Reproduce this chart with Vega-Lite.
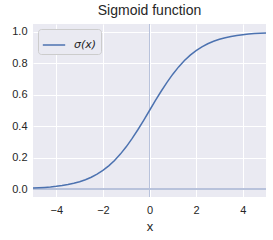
{
  "$schema": "https://vega.github.io/schema/vega-lite/v6.json",
  "width": 233,
  "height": 173,
  "autosize": "none",
  "padding": {"left": 33, "top": 24, "right": 7, "bottom": 43},
  "background": "white",
  "config": {
    "font": "Liberation Sans",
    "view": {"fill": "#EAEAF2", "stroke": null},
    "axis": {
      "domain": false,
      "ticks": false,
      "grid": true,
      "gridColor": "white",
      "gridWidth": 1,
      "labelOverlap": false,
      "labelColor": "#262626",
      "labelFontSize": 11,
      "labelFont": "Liberation Sans",
      "titleFont": "Liberation Sans",
      "titleColor": "#262626",
      "titleFontSize": 13,
      "titleFontWeight": "normal"
    }
  },
  "title": {"text": "Sigmoid function", "fontSize": 14, "fontWeight": "normal", "color": "#262626", "offset": 6, "font": "Liberation Sans"},
  "data": {
    "values": [
      {"x": -5, "y": 0.006693}, {"x": -4.75, "y": 0.008577}, {"x": -4.5, "y": 0.010987}, {"x": -4.25, "y": 0.014064},
      {"x": -4, "y": 0.017986}, {"x": -3.75, "y": 0.022977}, {"x": -3.5, "y": 0.029312}, {"x": -3.25, "y": 0.037327},
      {"x": -3, "y": 0.047426}, {"x": -2.75, "y": 0.060086}, {"x": -2.5, "y": 0.075858}, {"x": -2.25, "y": 0.095349},
      {"x": -2, "y": 0.119203}, {"x": -1.75, "y": 0.148047}, {"x": -1.5, "y": 0.182426}, {"x": -1.25, "y": 0.2227},
      {"x": -1, "y": 0.268941}, {"x": -0.75, "y": 0.320821}, {"x": -0.5, "y": 0.377541}, {"x": -0.25, "y": 0.437823},
      {"x": 0, "y": 0.5}, {"x": 0.25, "y": 0.562177}, {"x": 0.5, "y": 0.622459}, {"x": 0.75, "y": 0.679179},
      {"x": 1, "y": 0.731059}, {"x": 1.25, "y": 0.7773}, {"x": 1.5, "y": 0.817574}, {"x": 1.75, "y": 0.851953},
      {"x": 2, "y": 0.880797}, {"x": 2.25, "y": 0.904651}, {"x": 2.5, "y": 0.924142}, {"x": 2.75, "y": 0.939914},
      {"x": 3, "y": 0.952574}, {"x": 3.25, "y": 0.962673}, {"x": 3.5, "y": 0.970688}, {"x": 3.75, "y": 0.977023},
      {"x": 4, "y": 0.982014}, {"x": 4.25, "y": 0.985936}, {"x": 4.5, "y": 0.989013}, {"x": 4.75, "y": 0.991423},
      {"x": 5, "y": 0.993307}
    ]
  },
  "encoding": {
    "x": {
      "type": "quantitative",
      "scale": {"domain": [-5, 5], "nice": false, "zero": false},
      "axis": {"values": [-4, -2, 0, 2, 4], "format": "d", "title": "x", "labelPadding": 7, "titlePadding": 5, "labelOverlap": false}
    },
    "y": {
      "type": "quantitative",
      "scale": {"domain": [-0.05, 1.05], "nice": false, "zero": false},
      "axis": {"values": [0, 0.2, 0.4, 0.6, 0.8, 1.0], "format": ".1f", "title": null, "labelPadding": 6, "labelOverlap": false}
    }
  },
  "layer": [
    {
      "mark": {"type": "rule", "color": "#B8C2DB", "strokeWidth": 1},
      "encoding": {
        "x": {"datum": 0, "type": "quantitative"}
      }
    },
    {
      "mark": {"type": "rule", "color": "#B8C2DB", "strokeWidth": 1},
      "encoding": {
        "y": {"datum": 0, "type": "quantitative"}
      }
    },
    {
      "mark": {"type": "line", "strokeWidth": 1.5, "clip": true},
      "encoding": {
        "x": {"field": "x", "type": "quantitative"},
        "y": {"field": "y", "type": "quantitative"},
        "color": {
          "datum": "σ(x)",
          "type": "nominal",
          "scale": {"range": ["#4C72B0"]},
          "legend": {
            "title": null,
            "orient": "top-left",
            "offset": 5,
            "symbolType": "stroke",
            "symbolSize": 500,
            "symbolStrokeWidth": 1.5,
            "labelFont": "DejaVu Sans",
            "labelFontStyle": "italic",
            "labelFontSize": 11,
            "labelColor": "#262626",
            "labelOffset": 8,
            "fillColor": "#EAEAF2",
            "strokeColor": "#CCCCCC",
            "cornerRadius": 3,
            "padding": 4
          }
        }
      }
    }
  ]
}
